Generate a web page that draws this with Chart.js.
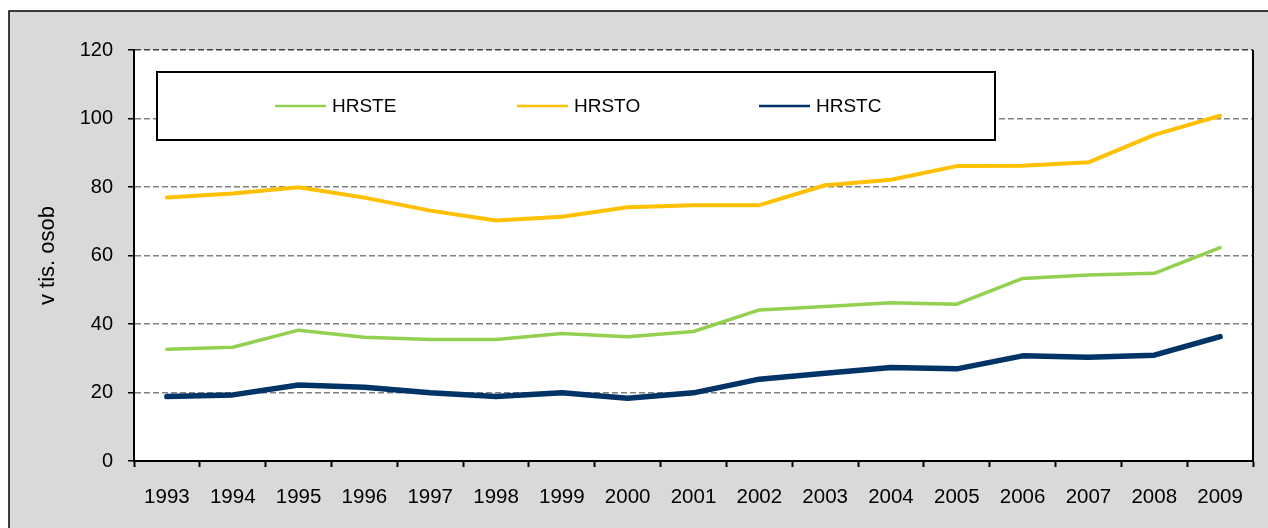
<!DOCTYPE html>
<html>
<head>
<meta charset="utf-8">
<style>
  html, body { margin: 0; padding: 0; background: #ffffff; }
  #wrap { width: 1268px; height: 528px; }
</style>
<script src="https://cdn.jsdelivr.net/npm/chart.js@4.4.1/dist/chart.umd.min.js"></script>
</head>
<body>
<div id="wrap"><canvas id="c" width="1268" height="528"></canvas></div>
<script>
const years = ['1993','1994','1995','1996','1997','1998','1999','2000','2001','2002','2003','2004','2005','2006','2007','2008','2009'];
const seriesNames = ['HRSTE', 'HRSTO', 'HRSTC'];
const hrste = [32.6, 33.2, 38.2, 36.1, 35.5, 35.5, 37.2, 36.3, 37.8, 44.1, 45.1, 46.2, 45.8, 53.3, 54.3, 54.8, 62.3];
const hrsto = [76.9, 78.1, 79.9, 76.9, 73.1, 70.2, 71.3, 74.1, 74.7, 74.7, 80.5, 82.1, 86.1, 86.2, 87.2, 95.2, 100.8];
const hrstc = [18.8, 19.3, 22.2, 21.5, 19.9, 18.8, 19.9, 18.3, 19.9, 23.9, 25.6, 27.3, 26.9, 30.7, 30.3, 30.9, 36.3];
const yTicks = [0, 20, 40, 60, 80, 100, 120];
const yTitle = 'v tis. osob';

const FONT = "'Liberation Sans', Arial, sans-serif";

const frame = {
  id: 'frame',
  beforeDraw(chart) {
    const ctx = chart.ctx;
    const a = chart.chartArea;
    ctx.save();
    ctx.fillStyle = '#ffffff';
    ctx.fillRect(0, 0, chart.width, chart.height);
    ctx.fillStyle = '#d9d9d9';
    ctx.fillRect(9, 11, chart.width + 20, chart.height + 20);
    ctx.strokeStyle = '#000000';
    ctx.lineWidth = 1.5;
    ctx.strokeRect(9, 11, chart.width + 20, chart.height + 20);
    ctx.fillStyle = '#ffffff';
    ctx.fillRect(a.left, a.top, a.right - a.left, a.bottom - a.top);
    ctx.restore();
  },
  afterDraw(chart) {
    const ctx = chart.ctx;
    const a = chart.chartArea;
    ctx.save();
    ctx.setLineDash([]);
    // left and right borders of plot area
    ctx.strokeStyle = '#000000';
    ctx.lineWidth = 2;
    ctx.beginPath();
    ctx.moveTo(a.right, a.top);
    ctx.lineTo(a.right, a.bottom);
    ctx.moveTo(a.left, a.top);
    ctx.lineTo(a.left, a.bottom);
    ctx.stroke();
    // legend box
    const bx = a.left + 23, by = a.top + 22, bw = 838, bh = 68;
    ctx.fillStyle = '#ffffff';
    ctx.fillRect(bx, by, bw, bh);
    ctx.lineWidth = 2;
    ctx.strokeStyle = '#000000';
    ctx.strokeRect(bx, by, bw, bh);
    const cy = by + bh / 2;
    chart.data.datasets.forEach((ds, i) => {
      const x0 = bx + 118 + i * 242;
      ctx.strokeStyle = ds.borderColor;
      ctx.lineWidth = 2.5;
      ctx.beginPath();
      ctx.moveTo(x0, cy);
      ctx.lineTo(x0 + 51, cy);
      ctx.stroke();
      ctx.fillStyle = '#000000';
      ctx.font = '19px ' + FONT;
      ctx.textBaseline = 'middle';
      ctx.textAlign = 'left';
      ctx.fillText(ds.label, x0 + 57, cy + 1);
    });
    ctx.restore();
  }
};

new Chart(document.getElementById('c'), {
  type: 'line',
  data: {
    labels: years,
    datasets: [
      { label: seriesNames[0], data: hrste, borderColor: '#92D050', borderWidth: 3.5 },
      { label: seriesNames[1], data: hrsto, borderColor: '#FFC000', borderWidth: 4 },
      { label: seriesNames[2], data: hrstc, borderColor: '#003366', borderWidth: 5.5 }
    ]
  },
  options: {
    responsive: false,
    animation: false,
    devicePixelRatio: 1,
    layout: { padding: { left: 0, top: 50, right: 15, bottom: 0 } },
    elements: {
      point: { radius: 0, hoverRadius: 0 },
      line: { tension: 0, borderCapStyle: 'round', borderJoinStyle: 'round', fill: false }
    },
    plugins: {
      legend: { display: false },
      tooltip: { enabled: false }
    },
    scales: {
      x: {
        type: 'category',
        offset: true,
        afterFit(s) { s.height = 67; },
        grid: {
          offset: true,
          drawOnChartArea: false,
          drawTicks: true,
          tickLength: 6,
          color: '#000000',
          tickWidth: 2
        },
        border: { display: true, color: '#000000', width: 2 },
        ticks: {
          color: '#000000',
          font: { family: FONT, size: 20.5 },
          padding: 18,
          maxRotation: 0,
          autoSkip: false
        }
      },
      y: {
        min: 0,
        max: 120,
        afterFit(s) { s.width = 134; },
        afterBuildTicks(s) { s.ticks = yTicks.map(v => ({ value: v })); },
        grid: {
          drawTicks: true,
          tickLength: 6,
          color: ctx => (ctx.tick && ctx.tick.value === 120) ? '#404040' : '#808080',
          lineWidth: 1.5,
          tickColor: '#000000',
          tickWidth: 1.5,
          tickBorderDash: []
        },
        border: { display: true, color: '#000000', width: 2, dash: [6, 3] },
        ticks: {
          color: '#000000',
          font: { family: FONT, size: 20 },
          padding: 15
        },
        title: {
          display: true,
          text: yTitle,
          color: '#000000',
          font: { family: FONT, size: 22 },
          padding: { top: 35, bottom: 0 }
        }
      }
    }
  },
  plugins: [frame]
});
</script>
</body>
</html>
